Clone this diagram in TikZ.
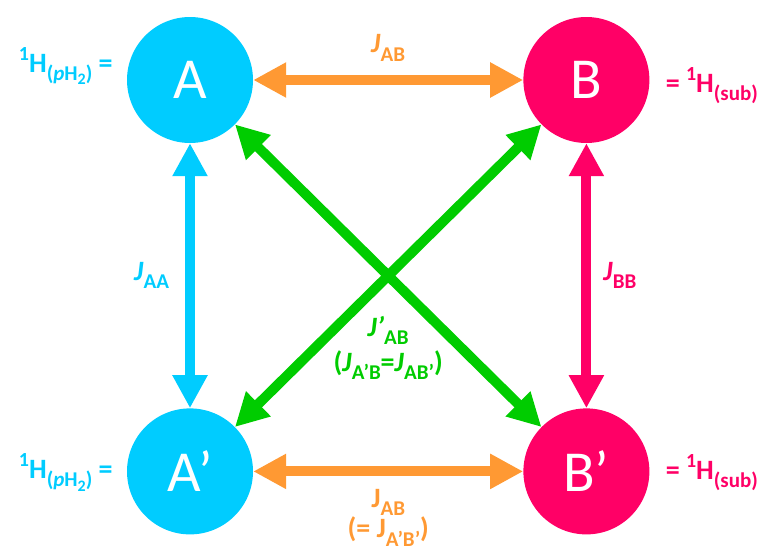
\documentclass[tikz,border=0pt]{standalone}
\usepackage{fontspec}
\setmainfont{Carlito}
\usetikzlibrary{arrows.meta,positioning,calc}
\definecolor{spinA}{RGB}{0,204,255}
\definecolor{spinB}{RGB}{255,0,102}
\definecolor{cplAB}{RGB}{255,153,51}
\definecolor{cplX}{RGB}{0,204,0}
% sub- and superscripts a little larger than the default ones
\newcommand{\lo}[1]{\raisebox{-0.3em}{\fontsize{21}{21}\selectfont #1}}
\newcommand{\lolo}[1]{\raisebox{-0.2em}{\fontsize{16}{16}\selectfont #1}}
\newcommand{\hi}[1]{\raisebox{0.42em}{\fontsize{20}{20}\selectfont #1}}

\begin{document}
\begin{tikzpicture}[x=1pt, y=-1pt,
  nuc/.style={circle, minimum size=126pt, inner sep=0pt, text=white,
    font=\fontsize{58}{60}\selectfont},
  nucA/.style={nuc, fill=spinA},
  nucB/.style={nuc, fill=spinB},
  lbl/.style={font=\fontsize{28}{32}\selectfont\bfseries, align=center,
    inner sep=2pt},
  arr/.style={{Triangle[length=33pt,width=33pt]}-{Triangle[length=33pt,width=33pt]},
    line width=10pt},
  node distance=270pt]
\useasboundingbox (0,0) rectangle (763,549);
% the four spins
\node[nucA] (A) at (190,80) {A};
\node[nucB, right=of A] (B) {B};
\node[nucA, below=265pt of A] (A2) {A’};
\node[nucB, right=of A2] (B2) {B’};
% what each spin is
\node[lbl, text=spinA, anchor=base east] (hA) at ([shift={(-12pt,8pt)}]A.west)
  {\hi{1}H\lo{(\textit{p}H\lolo{2})} =};
\node[lbl, text=spinB, anchor=base west] (hB) at ([shift={(14pt,-12pt)}]B.east)
  {= \hi{1}H\lo{(sub)}};
\node[lbl, text=spinA, anchor=base east] (hA2) at ([shift={(-12pt,-7pt)}]A2.west)
  {\hi{1}H\lo{(\textit{p}H\lolo{2})} =};
\node[lbl, text=spinB, anchor=base west] (hB2) at ([shift={(14pt,-8pt)}]B2.east)
  {= \hi{1}H\lo{(sub)}};
% couplings
\draw[arr, color=cplAB] (A) -- node[lbl, above=12pt] (jAB)
  {\textit{J}\lo{AB}} (B);
\draw[arr, color=cplAB] (A2) -- node[lbl, below=11pt,
  font=\fontsize{28}{29}\selectfont\bfseries] (jAB2)
  {J\lo{AB}\\(= J\lo{A’B’})} (B2);
\draw[arr, color=spinA] (A) -- node[lbl, left=14pt] (jAA)
  {\textit{J}\lo{AA}} (A2);
\draw[arr, color=spinB] (B) -- node[lbl, right=10pt] (jBB)
  {\textit{J}\lo{BB}} (B2);
\draw[arr, color=cplX] (A) -- (B2);
\draw[arr, color=cplX] (B) -- (A2);
\coordinate (X) at ($(A)!0.5!(B2)$);
\node[lbl, text=cplX, font=\fontsize{28}{35}\selectfont\bfseries,
  below=38pt of X] (jX)
  {\textit{J’}\lo{AB}\\(\textit{J}\lo{A’B}=\textit{J}\lo{AB’})};
\end{tikzpicture}
\end{document}
